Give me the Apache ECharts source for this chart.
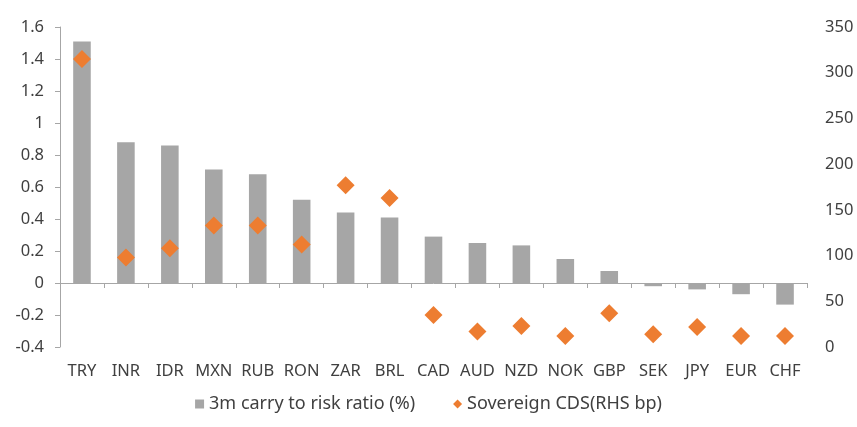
<!DOCTYPE html>
<html>
<head>
<meta charset="utf-8">
<script src="https://cdn.jsdelivr.net/npm/echarts@6/dist/echarts.min.js"></script>
<style>html,body{margin:0;padding:0;background:#fff}#c{width:857px;height:427px}</style>
</head>
<body>
<div id="c"></div>
<script>
const categories = ['TRY','INR','IDR','MXN','RUB','RON','ZAR','BRL','CAD','AUD','NZD','NOK','GBP','SEK','JPY','EUR','CHF'];
const carryToRisk = [1.51,0.88,0.86,0.71,0.68,0.52,0.44,0.41,0.29,0.25,0.235,0.15,0.075,-0.02,-0.04,-0.07,-0.135];
const sovereignCDS = [315,98,108,133,133,112,177,163,35,17,23,12,37,14,22,12,12];
const leftTicks = {min:-0.4, max:1.6, interval:0.2};
const rightTicks = {min:0, max:350, interval:50};

const txt = '#404040';
const font = 'Noto Sans';
const chart = echarts.init(document.getElementById('c'));
chart.setOption({
  animation: false,
  textStyle: {fontFamily: font},
  grid: {left: 60, right: 50, top: 27, bottom: 80, containLabel: false},
  legend: {
    bottom: 9, left: 'center', itemGap: 38, itemWidth: 9, itemHeight: 9,
    textStyle: {fontSize: 18, color: txt, fontFamily: font},
    data: [
      {name: '3m carry to risk ratio (%)', icon: 'rect', itemStyle:{color:'#a6a6a6'}},
      {name: 'Sovereign CDS(RHS bp)', icon: 'diamond', itemStyle:{color:'#ed7d31', opacity: 1}}
    ]
  },
  xAxis: [
    {type: 'category', data: categories, position: 'bottom',
     axisLine: {show: false, onZero: false}, axisTick: {show: false},
     axisLabel: {fontSize: 16.5, color: txt, margin: 16, interval: 0}},
    {type: 'category', data: categories, position: 'bottom',
     axisLine: {show: true, onZero: true, onZeroAxisIndex: 0, lineStyle: {color: '#a6a6a6'}},
     axisTick: {show: true, length: 5, lineStyle: {color: '#a6a6a6'}},
     axisLabel: {show: false}}
  ],
  yAxis: [
    {type: 'value', min: leftTicks.min, max: leftTicks.max, interval: leftTicks.interval,
     axisLine: {show: true, lineStyle: {color: '#a6a6a6'}},
     axisTick: {show: true, length: 5, lineStyle: {color: '#a6a6a6'}},
     splitLine: {show: false},
     axisLabel: {fontSize: 16.5, color: txt, margin: 16}},
    {type: 'value', min: rightTicks.min, max: rightTicks.max, interval: rightTicks.interval,
     position: 'right',
     axisLine: {show: false}, axisTick: {show: false}, splitLine: {show: false},
     axisLabel: {fontSize: 16.5, color: txt, margin: 18}}
  ],
  series: [
    {name: '3m carry to risk ratio (%)', type: 'bar', data: carryToRisk,
     xAxisIndex: 0, yAxisIndex: 0, barWidth: '40%', itemStyle: {color: '#a6a6a6'}},
    {name: 'Sovereign CDS(RHS bp)', type: 'scatter', data: sovereignCDS,
     xAxisIndex: 0, yAxisIndex: 1, symbol: 'diamond', symbolSize: 18,
     itemStyle: {color: '#ed7d31', opacity: 1}, z: 5}
  ]
});
</script>
</body>
</html>
